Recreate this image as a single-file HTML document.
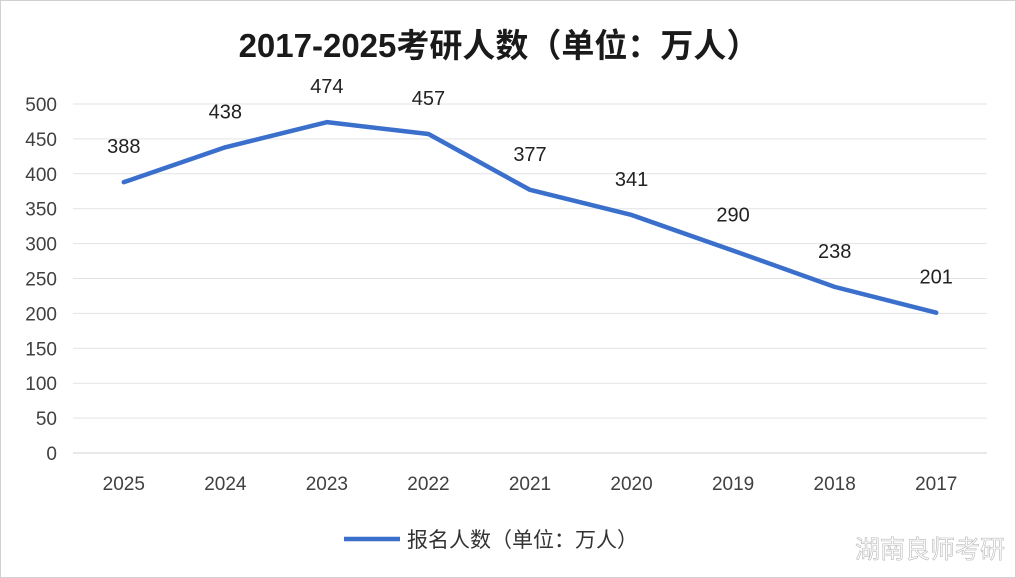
<!DOCTYPE html>
<html><head><meta charset="utf-8"><style>
body{margin:0;background:#fff;}
#wrap{position:relative;width:1014px;height:576px;border:1px solid #d0d0d0;background:#fff;overflow:hidden;font-family:"Liberation Sans","Noto Sans CJK SC",sans-serif;}
svg text{font-family:"Liberation Sans","Noto Sans CJK SC",sans-serif;}
</style></head><body>
<div id="wrap">
<svg id="chart" width="1014" height="576">
<text x="498" y="56" text-anchor="middle" font-size="33" font-weight="bold" fill="#1a1a1a">2017-2025考研人数（单位：万人）</text>
<g id="grid"></g><g id="ylab"></g><g id="xlab"></g><g id="series"></g><g id="vals"></g>
<line x1="343" y1="538" x2="399" y2="538" stroke="#3a6fcc" stroke-width="4.5"/>
<text x="406" y="546" font-size="21" fill="#333">报名人数（单位：万人）</text>
<text x="1004" y="557" text-anchor="end" font-size="25" fill="#fff" stroke="#b8b8b8" stroke-width="0.6">湖南良师考研</text>
</svg>
</div>
<script>
const categories=["2025","2024","2023","2022","2021","2020","2019","2018","2017"];
const values=[388,438,474,457,377,341,290,238,201];
const yTicks=[0,50,100,150,200,250,300,350,400,450,500];
const NS="http://www.w3.org/2000/svg";
const x0=72,x1=986,y0=452,y1=103,yMax=500;
const bw=(x1-x0)/categories.length;
const xs=i=>x0+bw*(i+0.5);
const ys=v=>y0-(v/yMax)*(y0-y1);
function mk(t,a,p){const e=document.createElementNS(NS,t);for(const k in a)e.setAttribute(k,a[k]);p.appendChild(e);return e;}
const g=document.getElementById('grid'),yl=document.getElementById('ylab'),xl=document.getElementById('xlab'),s=document.getElementById('series'),vl=document.getElementById('vals');
yTicks.forEach(t=>{
 const l=mk('line',{x1:x0,x2:x1,y1:ys(t),y2:ys(t),stroke:t===0?'#d0d0d0':'#e3e3e3','stroke-width':1},g);
 
 
 const tx=mk('text',{x:56,y:ys(t)+7,'text-anchor':'end','font-size':19,fill:'#404040'},yl);
 tx.textContent=t;
 
 
});
categories.forEach((c,i)=>{
 const tx=mk('text',{x:xs(i),y:489,'text-anchor':'middle','font-size':19,fill:'#404040'},xl);
 tx.textContent=c;
 
 
});
const pts=values.map((v,i)=>xs(i)+','+ys(v)).join(' ');
const pl=mk('polyline',{points:pts,fill:'none',stroke:'#3a6fcc','stroke-width':4.5,'stroke-linejoin':'round','stroke-linecap':'round'},s);


values.forEach((v,i)=>{
 const tx=mk('text',{x:xs(i),y:ys(v)-29,'text-anchor':'middle','font-size':20,fill:'#222'},vl);
 tx.textContent=v;
 
 
});
</script>
</body></html>
